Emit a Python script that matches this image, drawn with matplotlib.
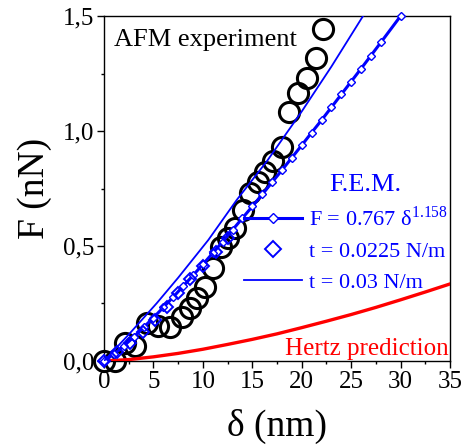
# AFM 실험 vs F.E.M. 시뮬레이션 vs Hertz 예측 : 힘-압입깊이 곡선
import matplotlib
matplotlib.use("Agg")
import matplotlib.pyplot as plt
from matplotlib.ticker import MultipleLocator, FuncFormatter

# 글꼴: Times 계열 대신 Liberation Serif
plt.rcParams["font.family"] = ["Liberation Serif", "DejaVu Serif"]
plt.rcParams["mathtext.fontset"] = "custom"
plt.rcParams["mathtext.rm"] = "Liberation Serif"

# --- 1) 데이터 ---
# AFM 실험 (검은 원)
afm_d = [0.0, 1.11, 2.12, 3.14, 4.35, 5.46, 6.68, 7.89, 8.70, 9.41, 10.22, 11.03, 11.84,
         12.54, 13.25, 14.06, 14.77, 15.58, 16.29, 17.09, 18.00, 18.71, 19.62, 20.53,
         21.44, 22.15]
afm_f = [0.0, 0.0, 0.078, 0.065, 0.165, 0.152, 0.148, 0.191, 0.230, 0.274, 0.322, 0.404,
         0.496, 0.535, 0.578, 0.657, 0.730, 0.778, 0.822, 0.870, 0.930, 1.083, 1.165,
         1.230, 1.317, 1.443]

# F.E.M. 피팅곡선 F = 0.767 δ^1.158 (작은 마름모 + 굵은 선)
fit_d = [0, 1, 2, 3, 4, 5, 6, 7, 8, 9, 10, 11, 12, 13, 14, 15, 16, 17, 18, 19, 20,
         21, 22, 23, 24, 25, 26, 27, 28, 30]
fit_f = [0.0, 0.029, 0.065, 0.104, 0.146, 0.188, 0.233, 0.278, 0.325, 0.372, 0.420,
         0.469, 0.519, 0.570, 0.621, 0.672, 0.724, 0.777, 0.830, 0.884, 0.938, 0.993,
         1.047, 1.103, 1.159, 1.215, 1.271, 1.328, 1.385, 1.500]

# F.E.M. t = 0.0225 N/m (큰 마름모)
fem1_d = [0.0, 1.31, 2.63, 3.95, 5.16, 6.37, 7.49, 8.70, 10.01, 11.33, 12.54]
fem1_f = [0.0, 0.039, 0.078, 0.126, 0.178, 0.235, 0.296, 0.357, 0.413, 0.474, 0.535]

# F.E.M. t = 0.03 N/m (가는 선)
fem2_d = [0.0, 2.5, 5.33, 7.5, 10.55, 13.42, 16.5, 20.0, 23.0, 26.2]
fem2_f = [0.0, 0.115, 0.251, 0.362, 0.526, 0.700, 0.870, 1.085, 1.280, 1.500]

# Hertz 예측 (빨간 선)
hertz_d = [0, 2.5, 5, 7.5, 10, 12.5, 15, 17.5, 20, 22.5, 25, 27.5, 30, 32.5, 35]
hertz_f = [0.0, 0.006, 0.018, 0.033, 0.051, 0.072, 0.094, 0.118, 0.145, 0.173, 0.202,
           0.233, 0.266, 0.300, 0.335]

# --- 2) 그래프 ---
fig = plt.figure(figsize=(4.63, 4.45), dpi=100)
ax = fig.add_axes([0.2246, 0.1888, 0.7474, 0.7752])

ax.plot(afm_d, afm_f, "o", ms=14.5, mfc="none", mec="black", mew=2.2, zorder=2,
        clip_on=False)
ax.plot(hertz_d, hertz_f, "-", color="red", lw=2.4, zorder=3)
h_fit, = ax.plot(fit_d, fit_f, "-D", color="blue", lw=2.2, ms=4.2, mfc="white",
                 mec="blue", mew=1.0, zorder=4, clip_on=False,
                 label=r"F = 0.767 δ$^{\mathrm{1.158}}$")
h_fem1, = ax.plot(fem1_d, fem1_f, "D", ms=6.5, mfc="none", mec="blue", mew=1.4,
                  zorder=5, clip_on=False, label="t = 0.0225 N/m")
h_fem2, = ax.plot(fem2_d, fem2_f, "-", color="blue", lw=1.3, zorder=4,
                  label="t = 0.03 N/m")

# 축 범위, 눈금
ax.set_xlim(0, 35)
ax.set_ylim(0, 1.5)
ax.xaxis.set_major_locator(MultipleLocator(5))
ax.xaxis.set_minor_locator(MultipleLocator(2.5))
ax.yaxis.set_major_locator(MultipleLocator(0.5))
ax.yaxis.set_minor_locator(MultipleLocator(0.25))
ax.yaxis.set_major_formatter(FuncFormatter(lambda v, p: f"{v:.1f}".replace(".", ",")))
ax.tick_params(which="major", direction="out", length=5, width=1.0, labelsize=18, pad=2)
ax.tick_params(which="minor", direction="out", length=2.5, width=1.0)
for s in ax.spines.values():
    s.set_linewidth(1.0)

ax.set_xlabel("δ (nm)", fontsize=27, labelpad=12)
ax.set_ylabel("F (nN)", fontsize=27, labelpad=8)

# 텍스트
ax.text(0.03, 0.93, "AFM experiment", transform=ax.transAxes, fontsize=19,
        ha="left", va="center")
ax.text(0.755, 0.51, "F.E.M.", transform=ax.transAxes, fontsize=19, color="blue",
        ha="center", va="center")
ax.text(0.995, 0.035, "Hertz prediction", transform=ax.transAxes, fontsize=18,
        color="red", ha="right", va="center")

ax.legend(handles=[h_fit, h_fem1, h_fem2], loc="upper left",
          bbox_to_anchor=(0.38, 0.475), frameon=False, fontsize=16,
          labelcolor="blue", handlelength=2.6, handletextpad=0.3,
          labelspacing=0.47, borderaxespad=0, numpoints=1, markerscale=1.3)

plt.savefig("out.png", dpi=100)
